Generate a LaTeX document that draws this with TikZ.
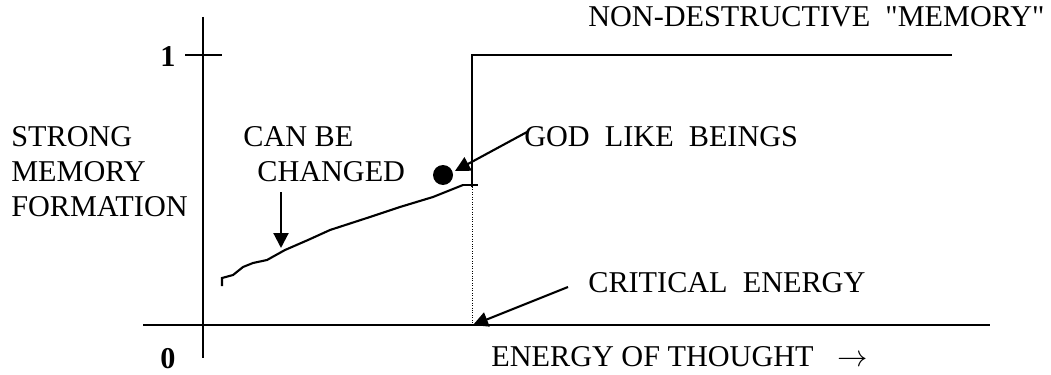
\documentclass[tikz,border=0pt]{standalone}
\usepackage{fontspec}
\setmainfont{Liberation Serif}[Ligatures=TeXOff]
\usetikzlibrary{arrows.meta}
\begin{document}
\begin{tikzpicture}[x=0.02cm,y=-0.02cm]
        \tikzset{lbl/.style={inner sep=0pt, font=\fontsize{17.2}{19}\selectfont},
          axis line/.style={line width=1.2pt},
          pointer/.style={line width=1.2pt, -{Triangle[length=8.5pt,width=8.5pt]}}}
        \useasboundingbox (0,0) rectangle (1051,375);
        % axes
        \draw[axis line] (203,17) -- (203,358);
        \draw[axis line] (143,325) -- (990,325);
        \draw[axis line] (185,55) -- (222,55);
        \node[lbl, font=\fontsize{17.2}{19}\selectfont\bfseries] (one) at (168,57) {1};
        \node[lbl, font=\fontsize{17.2}{19}\selectfont\bfseries] (zero) at (168,359) {0};
        % step
        \draw[axis line] (472,187) -- (472,55) -- (952,55);
        \draw[axis line] (462,185) -- (478,185);
        \draw[densely dotted, thin] (472,187) -- (472,325);
        % rising curve
        \draw[line width=1.2pt] (222,286) -- (222,278) -- (233,275) -- (243,267) -- (253,263) -- (267,260) -- (285,250) -- (308,240) -- (330,230) -- (370,217) -- (400,207) -- (433,197) -- (463,185);
        \fill (443,175) circle (10);
        % labels
        \node[lbl, anchor=west] (top) at (588,17) {NON-DESTRUCTIVE\ \ "MEMORY"};
        \node[lbl, anchor=west] (strong) at (11,137) {STRONG};
        \node[lbl, anchor=west] (memory) at (11,172) {MEMORY};
        \node[lbl, anchor=west] (formation) at (11,207) {FORMATION};
        \node[lbl, anchor=west] (canbe) at (243,137) {CAN BE};
        \node[lbl, anchor=west] (changed) at (257,172) {CHANGED};
        \node[lbl, anchor=west] (god) at (524,137) {GOD\ \ LIKE\ \ BEINGS};
        \node[lbl, anchor=west] (critical) at (588,283) {CRITICAL\ \ ENERGY};
        \node[lbl, anchor=west] (energy) at (491,357) {ENERGY OF THOUGHT\hspace{0.8em}$\rightarrow$};
        % pointers
        \coordinate (dot) at (455,171);
        \coordinate (curvept) at (281,248);
        \coordinate (crit) at (473,325);
        \draw[pointer] (527,132) -- (dot);
        \draw[pointer] (281,192) -- (curvept);
        \draw[pointer] (568,287) -- (crit);
      \end{tikzpicture}
\end{document}
